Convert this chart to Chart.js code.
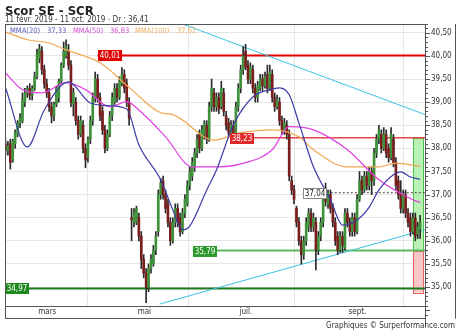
<!DOCTYPE html>
<html lang="fr">
<head>
<meta charset="UTF-8">
<title>Scor SE - SCR</title>
<script src="https://cdn.jsdelivr.net/npm/chart.js@4"></script>
<style>
  body { margin: 0; background: #fff; }
  #wrap { width: 460px; height: 331px; }
</style>
</head>
<body>
<div id="wrap"><canvas id="chart" width="460" height="331"></canvas></div>
<script>
// Séances depuis le 11 févr. 2019 (index 0) jusqu'au 11 oct. 2019 (index 171)
const opens = [
  38.10, 37.95, 38.10, 37.75, 38.10, 38.30, 38.55, 38.60, 39.00, 39.20, 39.30, 39.15, 39.30, 39.55,
  39.95, 40.10, 39.70, 39.40, 39.20, 38.90, 38.70, 38.95, 39.10, 39.45, 39.80, 40.00, 40.10, 39.80, 38.95, 39.00, 38.60, 38.30, 38.50, 38.00, 37.80,
  38.20, 38.60, 39.10, 39.50, 39.10, 38.80, 38.40, 38.00, 38.30, 38.70, 39.00, 39.30, 39.10, 39.40, 39.60, 39.40, 39.00, 36.50, 36.40, 36.40,
  36.50, 36.10, 35.60, 35.30, 35.00, 35.40, 35.50, 35.80, 36.20, 37.00, 37.30, 37.00, 36.80, 36.40, 36.00, 36.40, 36.70, 36.50, 36.20, 36.60, 36.80, 37.20,
  37.40, 37.60, 37.90, 38.30, 38.00, 38.30, 38.50, 38.20, 38.90, 39.20, 38.90, 39.10, 38.90, 39.20, 38.70, 38.55, 38.30, 38.50, 38.30, 38.90,
  39.30, 39.70, 40.10, 39.80, 39.50, 39.70, 39.30, 39.10, 39.30, 39.50, 39.35, 39.60, 39.30, 39.60, 39.10, 38.90, 39.00, 38.60, 38.35, 38.50, 38.30, 37.30, 37.10,
  36.70, 36.40, 36.00, 35.70, 36.00, 36.30, 36.60, 36.30, 36.40, 35.80, 36.10, 36.40, 37.00, 36.80, 37.00, 36.70, 36.40, 36.10, 35.80, 36.10, 35.85, 36.60,
  36.40, 36.20, 36.50, 36.20, 36.90, 37.30, 37.10, 37.40, 37.20, 37.50, 37.30, 37.90, 38.20, 38.30, 38.00, 38.30, 38.00, 37.80, 38.20, 37.70, 37.30,
  37.00, 36.70, 37.00, 36.60, 36.50, 36.20, 36.50, 36.15, 36.25
];
const highs = [
  38.20, 38.15, 38.20, 38.20, 38.40, 38.60, 38.75, 39.20, 39.30, 39.35, 39.40, 39.35, 39.65, 40.15,
  40.25, 40.20, 39.80, 39.50, 39.30, 39.00, 39.00, 39.35, 39.50, 39.85, 40.30, 40.35, 40.25, 39.90, 39.30, 39.10, 38.70, 38.70, 38.60, 38.10, 38.25,
  38.70, 39.20, 39.65, 39.60, 39.20, 38.90, 38.50, 38.40, 38.80, 39.20, 39.40, 39.40, 39.55, 39.75, 39.70, 39.50, 39.10, 36.70, 36.70, 36.75,
  36.60, 36.20, 35.70, 35.40, 35.50, 35.70, 35.90, 36.20, 37.10, 37.35, 37.40, 37.10, 36.90, 36.50, 36.50, 36.80, 36.80, 36.60, 36.70, 37.00, 37.30, 37.60,
  37.80, 38.00, 38.30, 38.40, 38.50, 38.60, 38.60, 39.00, 39.50, 39.30, 39.20, 39.20, 39.45, 39.30, 38.80, 38.65, 38.60, 38.60, 39.00, 39.40,
  39.80, 40.20, 40.25, 39.90, 39.85, 39.80, 39.40, 39.45, 39.60, 39.60, 39.65, 39.80, 39.80, 39.70, 39.20, 39.15, 39.10, 38.70, 38.65, 38.60, 38.40, 37.40, 37.20,
  36.75, 36.50, 36.10, 36.10, 36.50, 36.70, 36.70, 36.60, 36.50, 36.20, 36.50, 37.10, 37.25, 37.10, 37.10, 36.80, 36.50, 36.20, 36.20, 36.20, 36.70, 36.70,
  36.50, 36.60, 36.60, 37.00, 37.50, 37.40, 37.50, 37.50, 37.60, 37.60, 38.00, 38.30, 38.50, 38.40, 38.45, 38.40, 38.10, 38.45, 38.30, 37.80, 37.40,
  37.30, 37.10, 37.10, 36.70, 36.60, 36.60, 36.60, 36.40, 36.55
];
const lows = [
  37.85, 37.85, 37.55, 37.70, 38.00, 38.25, 38.45, 38.55, 38.90, 39.10, 39.05, 39.05, 39.25, 39.50,
  39.85, 39.60, 39.30, 39.10, 38.80, 38.55, 38.60, 38.90, 39.00, 39.40, 39.75, 39.95, 39.70, 38.90, 38.70, 38.50, 38.20, 38.25, 37.90, 37.58, 37.70,
  38.10, 38.50, 39.00, 39.00, 38.60, 38.30, 37.90, 37.95, 38.25, 38.60, 38.95, 39.00, 39.05, 39.35, 39.20, 38.90, 38.50, 36.00, 36.30, 36.35,
  36.00, 35.40, 35.20, 34.66, 34.90, 35.30, 35.45, 35.70, 36.10, 36.90, 36.90, 36.60, 36.30, 35.90, 35.95, 36.30, 36.30, 36.10, 36.15, 36.50, 36.75, 37.10,
  37.30, 37.50, 37.80, 37.90, 37.95, 38.20, 38.10, 38.15, 38.80, 38.80, 38.80, 38.75, 38.85, 38.70, 38.40, 38.25, 38.15, 38.10, 38.25, 38.80,
  39.20, 39.60, 39.70, 39.40, 39.40, 39.20, 39.00, 39.00, 39.25, 39.25, 39.30, 39.20, 39.25, 39.00, 38.80, 38.85, 38.50, 38.30, 38.30, 38.20, 37.30, 37.00, 36.80,
  36.30, 35.90, 35.50, 35.60, 35.90, 36.20, 36.20, 36.20, 35.37, 35.70, 36.00, 36.30, 36.75, 36.70, 36.60, 36.30, 35.90, 35.70, 35.75, 35.75, 35.80, 36.30,
  36.10, 36.10, 36.10, 36.15, 36.85, 37.00, 37.05, 37.10, 37.10, 37.00, 37.20, 37.80, 38.10, 37.90, 37.95, 37.80, 37.70, 37.75, 37.60, 37.10, 36.90,
  36.60, 36.60, 36.50, 36.30, 36.10, 36.15, 36.00, 36.05, 36.05
];
const closes = [
  37.95, 38.05, 37.70, 38.15, 38.35, 38.55, 38.65, 39.05, 39.20, 39.30, 39.15, 39.30, 39.55, 40.05,
  40.15, 39.70, 39.40, 39.20, 38.90, 38.70, 38.95, 39.30, 39.45, 39.80, 40.10, 40.20, 39.80, 39.00, 39.20, 38.60, 38.30, 38.60, 38.00, 37.75, 38.20,
  38.60, 39.10, 39.50, 39.10, 38.70, 38.40, 38.00, 38.30, 38.70, 39.10, 39.30, 39.10, 39.45, 39.60, 39.30, 39.00, 38.65, 36.45, 36.60, 36.70,
  36.10, 35.60, 35.30, 35.00, 35.40, 35.60, 35.80, 36.10, 37.00, 37.25, 37.00, 36.70, 36.40, 36.00, 36.40, 36.70, 36.40, 36.20, 36.60, 36.90, 37.20, 37.50,
  37.70, 37.90, 38.20, 38.00, 38.40, 38.55, 38.20, 38.90, 39.30, 38.90, 39.10, 38.85, 39.30, 38.80, 38.50, 38.35, 38.50, 38.30, 38.90, 39.30,
  39.70, 40.00, 39.75, 39.50, 39.75, 39.30, 39.10, 39.35, 39.50, 39.35, 39.55, 39.30, 39.65, 39.10, 38.90, 39.05, 38.60, 38.40, 38.55, 38.30, 37.40, 37.10, 36.90,
  36.40, 36.00, 35.70, 36.00, 36.40, 36.60, 36.30, 36.50, 35.80, 36.10, 36.40, 37.00, 36.85, 37.05, 36.70, 36.40, 36.00, 35.80, 36.10, 35.90, 36.60, 36.40,
  36.20, 36.50, 36.20, 36.90, 37.30, 37.10, 37.40, 37.20, 37.50, 37.30, 37.90, 38.20, 38.40, 38.00, 38.30, 37.90, 37.80, 38.30, 37.70, 37.20, 37.00,
  36.70, 37.00, 36.60, 36.40, 36.20, 36.50, 36.10, 36.30, 36.41
];

// Moyennes mobiles : [séance, valeur]
const mma20 = [[0, 39.31], [9, 38.03], [16, 38.83], [26, 39.44], [35, 38.98], [43, 38.92], [50, 38.85], [55, 38.08],
  [64, 37.32], [69, 36.67], [73, 36.24], [76, 36.32], [83, 37.10], [87, 37.53], [94, 38.51], [102, 39.11], [109, 39.27],
  [113, 39.31], [117, 39.16], [121, 38.55], [127, 37.60], [134, 36.89], [139, 36.34], [145, 36.45], [150, 36.73],
  [154, 37.10], [160, 37.43], [163, 37.49], [167, 37.38], [171, 37.33]];
const mma50 = [[0, 39.63], [7, 39.27], [15, 39.20], [25, 39.42], [33, 39.27], [43, 38.90], [50, 39.01], [55, 38.83],
  [66, 38.25], [77, 37.60], [88, 37.60], [99, 37.69], [110, 37.97], [117, 38.47], [127, 38.40], [141, 37.97],
  [154, 37.32], [168, 36.89], [171, 36.83]];
const mma100 = [[0, 40.52], [9, 40.35], [18, 40.28], [25, 40.13], [39, 39.85], [52, 39.27], [64, 38.77], [69, 38.73],
  [86, 38.18], [97, 38.34], [110, 38.40], [121, 38.25], [127, 37.97], [141, 37.60], [154, 37.60], [161, 37.68], [171, 37.61]];
const mmaNames = ['MMA(20)', 'MMA(50)', 'MMA(100)'];
const mmaLast = [37.33, 36.83, 37.61];

// Droites de tendance : [séance, valeur]
const trendHigh = [[72, 40.71], [173, 38.73]];
const trendLow = [[63.5, 34.63], [173, 36.24]];

// Niveaux horizontaux et séance de départ
const levelValues = [40.01, 38.23, 37.04, 35.79, 34.97];
const levelStarts = [38, 92.5, 122.6, 77.2, -0.2];

// Zone de droite (haut, milieu, bas) et séances couvertes
const zoneValues = [38.23, 35.79, 34.88];
const zoneSpan = [168.2, 172.3];

const monthTicks = [13.5, 54.5, 96.5, 141.5];
const monthLabels = ['mars', 'mai', 'juil.', 'sept.'];
const priceTicks = [35, 35.5, 36, 36.5, 37, 37.5, 38, 38.5, 39, 39.5, 40, 40.5];
const xMin = -0.2, xMax = 173;
const yMin = 34.59, yMax = 40.69;

const lastClose = 36.41;
const FONT = '"DejaVu Sans Condensed", "DejaVu Sans", sans-serif';
const fmt = v => v.toFixed(2).replace('.', ',');

const levelStyles = [
  { line: '#e00000', width: 2, box: '#e00000', text: '#fff' },
  { line: '#e04848', width: 1.5, box: '#e02828', text: '#fff' },
  { line: '#444', width: 1, dash: [2, 2], box: '#fff', text: '#222', border: '#888' },
  { line: '#5cb85c', width: 2, box: '#2e9a2e', text: '#fff' },
  { line: '#1e7a1e', width: 2, box: '#1e8a1e', text: '#fff' }
];
const mmaColors = ['#3c3ca8', '#e040e0', '#f0a850'];
const mmaTextColors = ['#5a5abf', '#d24ed2', '#efae66'];

const idx = closes.map((_, i) => i);
const toXY = arr => arr.map(p => ({ x: p[0], y: p[1] }));

const datasets = [];
// corps et mèches des chandeliers
datasets.push({
  type: 'bar', order: 2, grouped: false, barThickness: 2,
  data: idx.map(i => ({ x: i, y: [opens[i], closes[i]] })),
  backgroundColor: idx.map(i => closes[i] >= opens[i] ? '#3f923b' : '#7a1d1d'),
  borderWidth: 0
});
datasets.push({
  type: 'bar', order: 3, grouped: false, barThickness: 1,
  data: idx.map(i => ({ x: i, y: [lows[i], highs[i]] })),
  backgroundColor: '#2a2a2a', borderWidth: 0
});
[mma20, mma50, mma100].forEach((m, k) => {
  datasets.push({
    type: 'line', order: 1, data: toXY(m), borderColor: mmaColors[k], borderWidth: 1.2,
    pointRadius: 0, cubicInterpolationMode: 'monotone'
  });
});
[trendHigh, trendLow].forEach(t => {
  datasets.push({ type: 'line', order: 4, data: toXY(t), borderColor: '#3cc3e3', borderWidth: 1, pointRadius: 0 });
});
levelValues.forEach((v, k) => {
  const s = levelStyles[k];
  datasets.push({
    type: 'line', order: 5, data: [{ x: levelStarts[k], y: v }, { x: xMax, y: v }],
    borderColor: s.line, borderWidth: s.width, borderDash: s.dash || [], pointRadius: 0
  });
});

const decor = {
  id: 'decor',
  beforeDatasetsDraw(chart) {
    const { ctx, scales: { x, y } } = chart;
    const x0 = x.getPixelForValue(zoneSpan[0]), x1 = x.getPixelForValue(zoneSpan[1]);
    const yt = y.getPixelForValue(zoneValues[0]), ym = y.getPixelForValue(zoneValues[1]), yb = y.getPixelForValue(zoneValues[2]);
    ctx.save();
    ctx.fillStyle = '#b9f1b4';
    ctx.fillRect(x0, yt, x1 - x0, ym - yt);
    ctx.strokeStyle = '#4cc04c';
    ctx.lineWidth = 1;
    ctx.strokeRect(Math.round(x0) + 0.5, Math.round(yt) + 0.5, Math.round(x1 - x0), Math.round(ym - yt));
    ctx.fillStyle = '#f8c6c6';
    ctx.fillRect(x0, ym, x1 - x0, yb - ym);
    ctx.strokeStyle = '#e46464';
    ctx.strokeRect(Math.round(x0) + 0.5, Math.round(ym) + 0.5, Math.round(x1 - x0), Math.round(yb - ym));
    ctx.restore();
  },
  afterDatasetsDraw(chart) {
    const { ctx, scales: { x, y } } = chart;
    ctx.save();
    ctx.font = '8px ' + FONT;
    ctx.textBaseline = 'middle';
    ctx.textAlign = 'center';
    levelValues.forEach((v, k) => {
      const s = levelStyles[k];
      const px = Math.round(x.getPixelForValue(levelStarts[k]));
      const py = Math.round(y.getPixelForValue(v));
      const w = 24, h = 11;
      const bx = Math.max(px, chart.chartArea.left);
      ctx.fillStyle = s.box;
      ctx.fillRect(bx, py - 5, w, h);
      if (s.border) {
        ctx.strokeStyle = s.border;
        ctx.lineWidth = 1;
        ctx.strokeRect(bx + 0.5, py - 4.5, w - 1, h - 1);
      }
      ctx.fillStyle = s.text;
      ctx.fillText(fmt(v), bx + w / 2, py + 0.5);
    });
    ctx.restore();
  },
  afterDraw(chart) {
    const { ctx, chartArea: a, scales: { y } } = chart;
    ctx.save();
    // cadre
    ctx.strokeStyle = '#555';
    ctx.lineWidth = 1;
    ctx.strokeRect(a.left + 0.5, a.top + 0.5, a.right - a.left, 318 - a.top);
    ctx.beginPath();
    ctx.moveTo(a.left, a.bottom + 0.5); ctx.lineTo(a.right, a.bottom + 0.5);
    ctx.moveTo(a.right + 0.5, a.top); ctx.lineTo(a.right + 0.5, 327);
    ctx.moveTo(455.5, a.top); ctx.lineTo(455.5, 318.5);
    ctx.stroke();
    // graduations de l'axe des prix
    ctx.beginPath();
    for (let t = 344; t <= 408; t++) {
      const py = Math.round(y.getPixelForValue(t / 10)) + 0.5;
      if (py < a.top || py > 327) continue;
      const len = t % 5 === 0 ? 4 : 2;
      ctx.moveTo(a.right, py); ctx.lineTo(a.right + 1 + len, py);
    }
    ctx.stroke();
    // titres
    ctx.fillStyle = '#222';
    ctx.textBaseline = 'alphabetic';
    ctx.font = 'bold 13px ' + FONT;
    ctx.fillText('Scor SE - SCR', 5, 15);
    ctx.font = '8px ' + FONT;
    ctx.fillStyle = '#333';
    ctx.fillText('11 févr. 2019 - 11 oct. 2019 - Dr : ' + fmt(lastClose), 5, 22);
    // légende des moyennes mobiles
    const legendX = [10, 47, 73, 110, 135, 177];
    ctx.font = '7.5px ' + FONT;
    mmaNames.forEach((n, k) => {
      ctx.fillStyle = mmaTextColors[k];
      ctx.fillText(n, legendX[k * 2], 33);
      ctx.fillText(fmt(mmaLast[k]), legendX[k * 2 + 1], 33);
    });
    // pied
    ctx.fillStyle = '#333';
    ctx.textAlign = 'right';
    ctx.font = '8px ' + FONT;
    ctx.fillText('Graphiques © Surperformance.com', 455, 328);
    ctx.restore();
  }
};

new Chart(document.getElementById('chart'), {
  type: 'bar',
  data: { datasets },
  options: {
    responsive: false,
    animation: false,
    events: [],
    devicePixelRatio: 1,
    layout: { padding: { left: 5, top: 24, right: 0, bottom: 13 } },
    plugins: { legend: { display: false }, tooltip: { enabled: false }, title: { display: false } },
    scales: {
      x: {
        type: 'linear', min: xMin, max: xMax, offset: false,
        afterBuildTicks: s => { s.ticks = monthTicks.map(v => ({ value: v })); },
        afterFit: s => { s.height = 12; },
        ticks: {
          align: 'start', padding: 1, autoSkip: false, maxRotation: 0,
          color: '#333', font: { size: 8, family: FONT },
          callback: (v, i) => monthLabels[i]
        },
        grid: { color: '#e6e6e6', drawTicks: false },
        border: { display: false }
      },
      y: {
        position: 'right', min: yMin, max: yMax,
        afterBuildTicks: s => { s.ticks = priceTicks.map(v => ({ value: v })); },
        afterFit: s => { s.width = 35; },
        ticks: {
          autoSkip: false, padding: 6,
          color: '#333', font: { size: 8, family: FONT },
          callback: v => fmt(v)
        },
        grid: { drawTicks: false, color: '#e6e6e6' },
        border: { display: false }
      }
    }
  },
  plugins: [decor]
});
</script>
</body>
</html>
